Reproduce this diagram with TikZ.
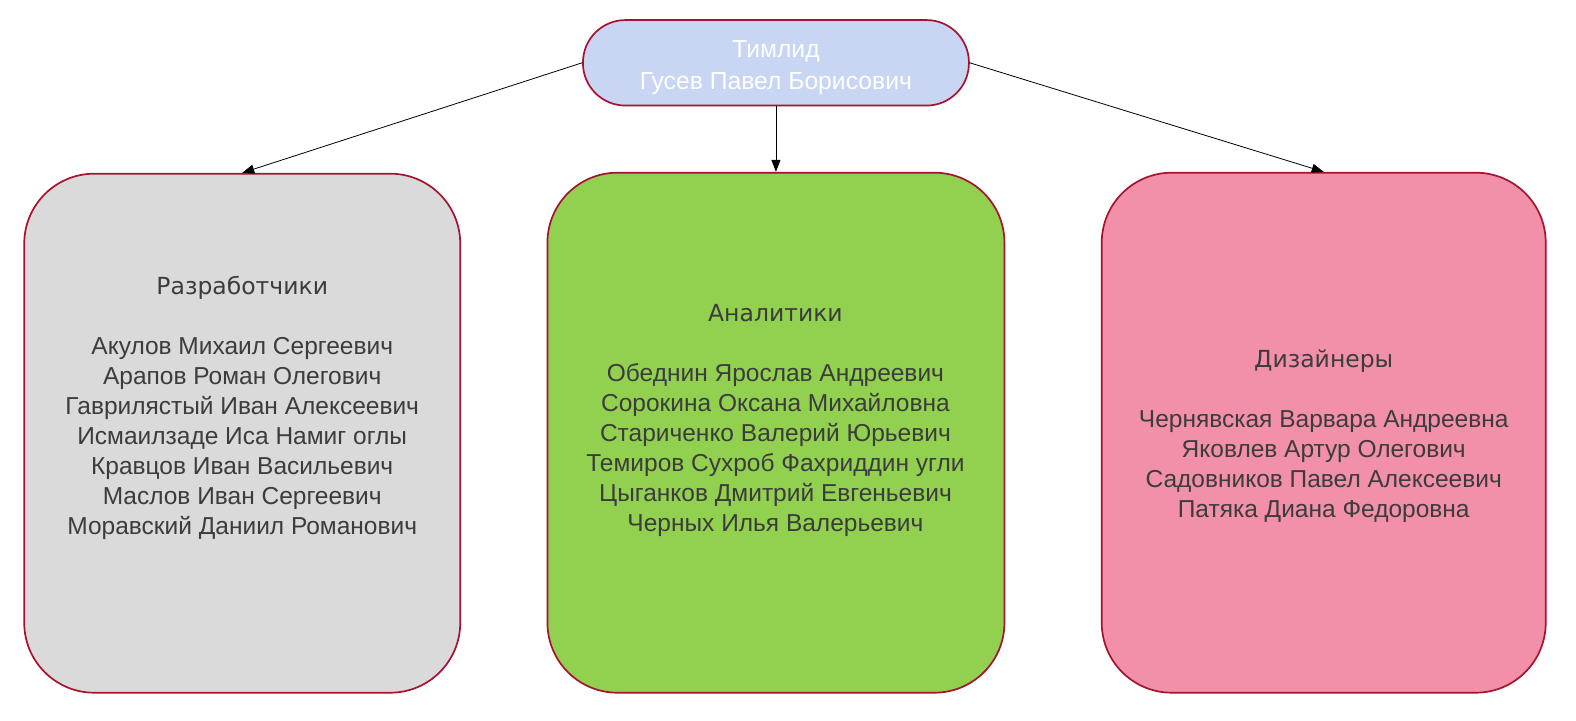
\documentclass[tikz,border=0pt]{standalone}
\usepackage{fontspec}
\setmainfont{Liberation Sans}
\newfontfamily\headfont{DejaVu Sans}
\usetikzlibrary{arrows.meta}
\definecolor{crim}{HTML}{A6132F}
\definecolor{leadfill}{HTML}{C8D5F3}
\definecolor{devfill}{HTML}{DADADA}
\definecolor{anfill}{HTML}{92D050}
\definecolor{desfill}{HTML}{F290A9}
\definecolor{txt}{HTML}{3C3C3C}
\tikzset{
  box/.style={draw=crim, line width=1.7pt, rectangle, rounded corners=70pt, inner sep=0pt},
  arr/.style={draw=black, line width=0.8pt, -{Triangle[length=12pt,width=9pt]}},
  grouptext/.style={text=txt, align=center, inner sep=0pt, font=\fontsize{24.5pt}{30pt}\selectfont}
}
\newcommand{\hd}[1]{{\headfont\fontsize{23.5pt}{30pt}\selectfont #1}}
\begin{document}
\begin{tikzpicture}[x=1.0051pt,y=-1.0051pt]
\useasboundingbox (0,0) rectangle (1568,717.3);
\fill[white] (0,0) rectangle (1568,717.3);
\node[box, fill=leadfill, minimum width=386pt, minimum height=85.5pt, rounded corners=42.5pt,
  text=white, align=center, font=\fontsize{24.7pt}{32pt}\selectfont] (lead) at (772,62.5)
  {\rule{0pt}{27pt}Тимлид\\Гусев Павел Борисович};
\node[box, fill=devfill, minimum width=436pt, minimum height=519pt] (dev) at (241,431) {};
\node[box, fill=anfill, minimum width=457pt, minimum height=520pt] (an) at (772,430.5) {};
\node[box, fill=desfill, minimum width=444pt, minimum height=520pt] (des) at (1317,430.5) {};
\draw[arr] (lead.west) -- (dev.north);
\draw[arr] (lead.south) -- (an.north);
\draw[arr] (lead.east) -- (des.north);
\node[grouptext] (devt) at (241,405.5) {\hd{Разработчики}\\[30pt]
Акулов Михаил Сергеевич\\Арапов Роман Олегович\\Гаврилястый Иван Алексеевич\\Исмаилзаде Иса Намиг оглы\\Кравцов Иван Васильевич\\Маслов Иван Сергеевич\\Моравский Даниил Романович};
\node[grouptext] (ant) at (771.5,418.5) {\hd{Аналитики}\\[30pt]
Обеднин Ярослав Андреевич\\Сорокина Оксана Михайловна\\Стариченко Валерий Юрьевич\\Темиров Сухроб Фахриддин угли\\Цыганков Дмитрий Евгеньевич\\Черных Илья Валерьевич};
\node[grouptext] (dest) at (1317,433.5) {\hd{Дизайнеры}\\[30pt]
Чернявская Варвара Андреевна\\Яковлев Артур Олегович\\Садовников Павел Алексеевич\\Патяка Диана Федоровна};
\end{tikzpicture}
\end{document}
